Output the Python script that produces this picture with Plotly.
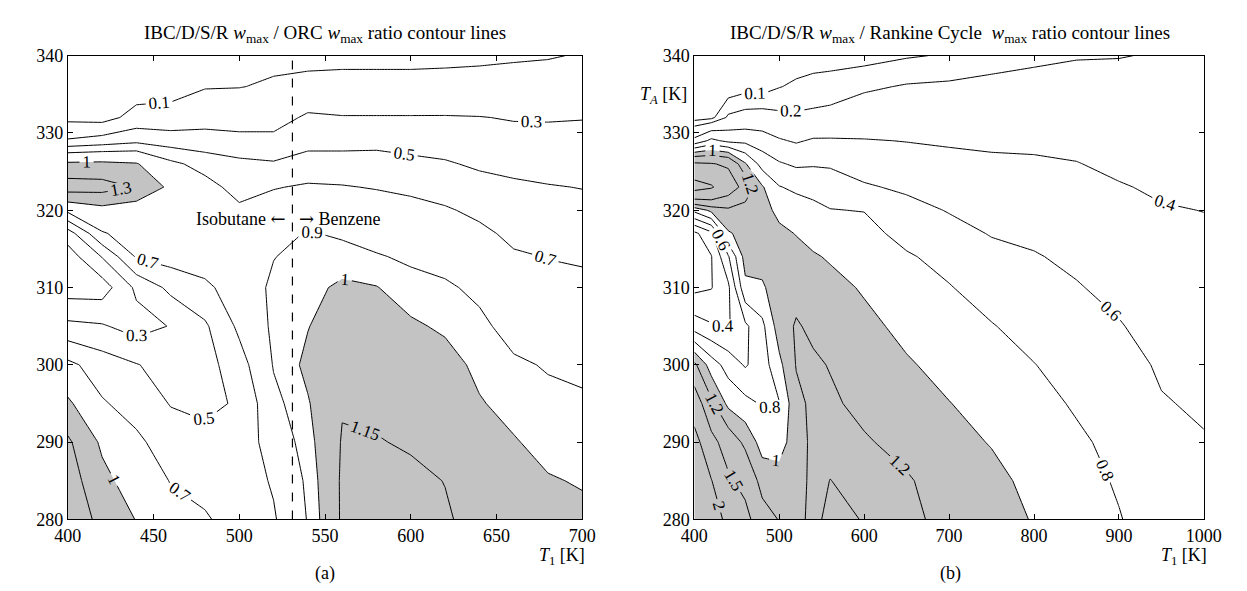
import plotly.graph_objects as go

# ---------------- data: panel (a) IBC/D/S/R / ORC ratio ----------------
A_T1 = [400, 420, 440, 460, 480, 500, 520, 540, 560, 580, 600, 620, 640, 660, 680, 700]
A_TA = [280, 285, 290, 295, 300, 305, 310, 314, 317, 320, 323, 326, 329, 332, 336, 340]
A_RATIO = [
    [1.55, 1.2, 0.99, 0.77, 0.72, 0.62, 0.68, 0.91, 1.17, 1.18, 1.18, 1.16, 1.12, 1.08, 1.04, 1.03],
    [1.45, 1.08, 0.86, 0.69, 0.64, 0.6, 0.72, 0.93, 1.17, 1.17, 1.17, 1.148, 1.1, 1.05, 1.01, 0.99],
    [1.35, 0.95, 0.74, 0.6, 0.55, 0.57, 0.8, 0.96, 1.16, 1.155, 1.14, 1.12, 1.06, 1.01, 0.96, 0.95],
    [1.05, 0.72, 0.62, 0.49, 0.46, 0.52, 0.86, 0.99, 1.14, 1.13, 1.11, 1.09, 1.01, 0.96, 0.93, 0.92],
    [0.75, 0.6, 0.51, 0.42, 0.42, 0.62, 0.91, 1.03, 1.12, 1.1, 1.07, 1.05, 0.97, 0.92, 0.89, 0.87],
    [0.35, 0.32, 0.22, 0.31, 0.47, 0.74, 0.93, 0.995, 1.08, 1.06, 1.02, 0.98, 0.93, 0.85, 0.82, 0.8],
    [0.0, 0.0, 0.34, 0.55, 0.66, 0.8, 0.93, 0.97, 1.02, 1.005, 0.94, 0.92, 0.87, 0.78, 0.75, 0.74],
    [0.0, 0.31, 0.72, 0.78, 0.8, 0.86, 0.895, 0.95, 0.95, 0.91, 0.88, 0.85, 0.81, 0.72, 0.695, 0.68],
    [0.2, 0.68, 0.8, 0.85, 0.84, 0.85, 0.85, 0.91, 0.88, 0.85, 0.83, 0.8, 0.74, 0.66, 0.63, 0.61],
    [0.75, 0.9, 0.82, 0.9, 0.85, 0.74, 0.78, 0.82, 0.8, 0.78, 0.76, 0.72, 0.66, 0.61, 0.57, 0.55],
    [1.45, 1.42, 1.28, 0.93, 0.78, 0.62, 0.69, 0.72, 0.71, 0.69, 0.66, 0.62, 0.57, 0.53, 0.51, 0.495],
    [1.05, 1.06, 1.02, 0.75, 0.62, 0.55, 0.52, 0.6, 0.6, 0.6, 0.55, 0.52, 0.47, 0.45, 0.43, 0.42],
    [0.32, 0.38, 0.45, 0.4, 0.38, 0.35, 0.35, 0.42, 0.42, 0.43, 0.42, 0.41, 0.38, 0.35, 0.34, 0.34],
    [0.05, 0.025, 0.17, 0.17, 0.22, 0.22, 0.22, 0.33, 0.31, 0.31, 0.31, 0.31, 0.305, 0.29, 0.29, 0.295],
    [-0.05, 0.0, 0.0, 0.03, 0.09, 0.095, 0.12, 0.14, 0.15, 0.15, 0.15, 0.16, 0.16, 0.17, 0.17, 0.18],
    [-0.2, -0.15, -0.1, 0.0, 0.02, 0.03, 0.06, 0.06, 0.06, 0.06, 0.06, 0.06, 0.07, 0.08, 0.09, 0.11],
]
A_FLUID_SWITCH_T1 = 531

# ---------------- data: panel (b) IBC/D/S/R / Rankine ratio ----------------
B_T1 = [400, 420, 440, 460, 480, 500, 520, 540, 560, 600, 650, 700, 750, 800, 850, 900, 950, 1000]
B_TA = [280, 285, 290, 295, 300, 305, 310, 314, 317, 320, 323, 326, 329, 332, 336, 340]
B_RATIO = [
    [2.7, 2.3, 1.85, 1.6, 1.3, 1.19, 1.12, 1.27, 1.33, 1.295, 1.24, 1.15, 1.1, 0.985, 0.9, 0.81, 0.7, 0.66],
    [2.5, 2.02, 1.55, 1.4, 1.12, 1.08, 1.1, 1.26, 1.302, 1.26, 1.22, 1.11, 1.05, 0.95, 0.87, 0.78, 0.67, 0.64],
    [2.2, 1.6, 1.35, 1.15, 0.92, 0.92, 1.1, 1.25, 1.26, 1.22, 1.14, 1.06, 0.99, 0.91, 0.83, 0.75, 0.64, 0.61],
    [1.7, 1.25, 0.95, 0.86, 0.78, 0.79, 1.15, 1.24, 1.23, 1.15, 1.08, 1.005, 0.93, 0.86, 0.78, 0.71, 0.61, 0.58],
    [1.25, 0.9, 0.72, 0.58, 0.7, 0.95, 1.21, 1.23, 1.19, 1.1, 1.02, 0.94, 0.87, 0.805, 0.72, 0.66, 0.58, 0.55],
    [0.5, 0.42, 0.38, 0.56, 0.75, 1.1, 1.22, 1.16, 1.13, 1.05, 0.95, 0.87, 0.81, 0.73, 0.66, 0.61, 0.54, 0.52],
    [0.15, 0.19, 0.36, 0.95, 0.98, 1.08, 1.13, 1.1, 1.06, 0.98, 0.88, 0.81, 0.72, 0.66, 0.61, 0.56, 0.5, 0.48],
    [0.12, 0.19, 0.58, 1.08, 1.06, 1.1, 1.08, 1.02, 0.98, 0.92, 0.82, 0.74, 0.65, 0.61, 0.57, 0.53, 0.47, 0.45],
    [0.15, 0.35, 0.98, 1.06, 1.12, 1.06, 0.99, 0.93, 0.9, 0.86, 0.74, 0.66, 0.59, 0.57, 0.54, 0.49, 0.44, 0.42],
    [0.85, 1.05, 1.15, 1.1, 1.1, 0.93, 0.9, 0.84, 0.805, 0.795, 0.66, 0.59, 0.54, 0.52, 0.5, 0.45, 0.41, 0.398],
    [2.2, 2.05, 1.7, 1.38, 1.02, 0.81, 0.76, 0.75, 0.73, 0.62, 0.57, 0.52, 0.49, 0.47, 0.45, 0.41, 0.38, 0.36],
    [1.55, 1.52, 1.45, 1.02, 0.72, 0.62, 0.57, 0.58, 0.57, 0.52, 0.48, 0.45, 0.43, 0.42, 0.405, 0.37, 0.35, 0.33],
    [0.45, 0.65, 0.55, 0.55, 0.5, 0.42, 0.38, 0.42, 0.42, 0.41, 0.395, 0.38, 0.37, 0.37, 0.36, 0.34, 0.32, 0.3],
    [0.05, 0.07, 0.22, 0.25, 0.26, 0.23, 0.22, 0.23, 0.24, 0.28, 0.29, 0.3, 0.31, 0.32, 0.32, 0.3, 0.29, 0.27],
    [-0.05, -0.03, 0.03, 0.06, 0.05, 0.095, 0.12, 0.13, 0.14, 0.18, 0.21, 0.22, 0.24, 0.25, 0.26, 0.25, 0.25, 0.24],
    [-0.1, -0.08, -0.02, 0.0, 0.0, 0.02, 0.04, 0.06, 0.06, 0.06, 0.09, 0.11, 0.14, 0.17, 0.19, 0.195, 0.21, 0.21],
]

A_XTICKS = [400, 450, 500, 550, 600, 650, 700]
B_XTICKS = [400, 500, 600, 700, 800, 900, 1000]
Y_TICKS = [280, 290, 300, 310, 320, 330, 340]

SERIF = "Liberation Serif"
GREY = "#c3c3c3"
W, H = 1247, 591

fig = go.Figure()


def col_subset(xs, z, xmin=None, xmax=None):
    idx = [i for i, v in enumerate(xs) if (xmin is None or v >= xmin) and (xmax is None or v <= xmax)]
    return [xs[i] for i in idx], [[row[i] for i in idx] for row in z]


def add_fill(xs, ys, z, xa, ya):
    # plotly shades the region that violates the constraint, so "< 1" shades ratio > 1
    fig.add_trace(go.Contour(
        x=xs, y=ys, z=z, xaxis=xa, yaxis=ya,
        contours=dict(type="constraint", operation="<", value=1),
        fillcolor=GREY, line=dict(width=0, color=GREY, smoothing=0),
        showscale=False, hoverinfo="skip", showlegend=False))


def add_lines(xs, ys, z, xa, ya, start, end, size):
    fig.add_trace(go.Contour(
        x=xs, y=ys, z=z, xaxis=xa, yaxis=ya,
        autocontour=False,
        contours=dict(start=start, end=end, size=size, coloring="none",
                      showlabels=True,
                      labelfont=dict(family=SERIF, size=17, color="black")),
        line=dict(color="black", width=1, smoothing=0),
        showscale=False, hoverinfo="skip", showlegend=False))


# ---- panel (a)
add_fill(A_T1, A_TA, A_RATIO, "x", "y")
add_lines(A_T1, A_TA, A_RATIO, "x", "y", 0.1, 0.71, 0.2)
xs, zs = col_subset(A_T1, A_RATIO, xmin=500)
add_lines(xs, A_TA, zs, "x", "y", 0.9, 0.9, 1)
add_lines(A_T1, A_TA, A_RATIO, "x", "y", 1.0, 1.0, 1)
xs, zs = col_subset(A_T1, A_RATIO, xmin=540)
add_lines(xs, A_TA, zs, "x", "y", 1.15, 1.15, 1)
add_lines(A_T1, A_TA, A_RATIO, "x", "y", 1.3, 1.3, 1)

# ---- panel (b)
add_fill(B_T1, B_TA, B_RATIO, "x2", "y2")
add_lines(B_T1, B_TA, B_RATIO, "x2", "y2", 0.1, 0.1, 1)
add_lines(B_T1, B_TA, B_RATIO, "x2", "y2", 0.2, 1.21, 0.2)
xs, zs = col_subset(B_T1, B_RATIO, xmin=520)
add_lines(xs, B_TA, zs, "x2", "y2", 1.3, 1.3, 1)
add_lines(B_T1, B_TA, B_RATIO, "x2", "y2", 1.5, 2.0, 0.5)

# ---- layout
ax_common = dict(showgrid=False, zeroline=False, showline=True, linecolor="black",
                 linewidth=1, mirror="ticks", ticks="inside", ticklen=5,
                 tickwidth=1, tickcolor="black",
                 tickfont=dict(family=SERIF, size=18, color="black"))

XA = (47 / W, 575 / W)
XB = (690 / W, 1213 / W)
YD = (1 - 519 / H, 1 - 39 / H)

fig.update_layout(
    width=W, height=H, margin=dict(l=0, r=0, t=0, b=0),
    paper_bgcolor="white", plot_bgcolor="white", showlegend=False,
    xaxis=dict(domain=list(XA), range=[400, 700], tickvals=A_XTICKS, anchor="y", **ax_common),
    yaxis=dict(domain=list(YD), range=[280, 340], tickvals=Y_TICKS, anchor="x", **ax_common),
    xaxis2=dict(domain=list(XB), range=[400, 1000], tickvals=B_XTICKS, anchor="y2", **ax_common),
    yaxis2=dict(domain=list(YD), range=[280, 340], tickvals=Y_TICKS, anchor="x2", **ax_common),
)

fig.add_shape(type="line", xref="x", yref="y", x0=A_FLUID_SWITCH_T1, x1=A_FLUID_SWITCH_T1,
              y0=280, y1=340, line=dict(color="black", width=1.2, dash="dash"))

ann_font = dict(family=SERIF, size=18, color="black")
ARROW_STYLE = "font-family:'DejaVu Serif'"


def ptext(text, x, y, xanchor="center", size=18):
    fig.add_annotation(text=text, xref="paper", yref="paper", x=x / W, y=1 - y / H,
                       xanchor=xanchor, yanchor="middle", showarrow=False,
                       font=dict(family=SERIF, size=size, color="black"))


ptext("IBC/D/S/R <i>w</i><sub>max</sub> / ORC <i>w</i><sub>max</sub> ratio contour lines", 311, 17, size=19)
ptext("IBC/D/S/R <i>w</i><sub>max</sub> / Rankine Cycle  <i>w</i><sub>max</sub> ratio contour lines", 952, 17, size=19)
ptext("(a)", 311, 575)
ptext("(b)", 953, 575)
ptext("<i>T</i><sub>1</sub> [K]", 580, 557, xanchor="right")
ptext("<i>T</i><sub>1</sub> [K]", 1218, 557, xanchor="right")
ptext("<i>T<sub>A</sub></i> [K]", 658, 80)

fig.add_annotation(text="Isobutane <span style=\"%s\">\u2190</span>" % ARROW_STYLE,
                   xref="x", yref="y", x=A_FLUID_SWITCH_T1 - 2.5, y=318.9,
                   xanchor="right", yanchor="middle", showarrow=False, font=ann_font)
fig.add_annotation(text="<span style=\"%s\">\u2192</span> Benzene" % ARROW_STYLE,
                   xref="x", yref="y", x=A_FLUID_SWITCH_T1 + 2.5, y=318.9,
                   xanchor="left", yanchor="middle", showarrow=False, font=ann_font)

fig.write_html("out.html")
